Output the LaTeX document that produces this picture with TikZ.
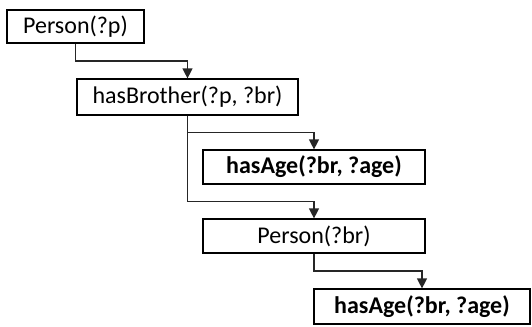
\documentclass[tikz,border=0pt]{standalone}
\usepackage{fontspec}
\setmainfont{Carlito}
\usetikzlibrary{arrows.meta}
\begin{document}
\begin{tikzpicture}[x=0.5pt, y=-0.5pt]
      \tikzset{atom/.style={draw=black, line width=0.6pt, rectangle, inner sep=0pt,
          font=\fontsize{12}{14}\selectfont}}
      \tikzset{link/.style={draw=black!85, line width=0.6pt,
          -{Triangle[width=5pt, length=5pt]}}}
      \path[use as bounding box] (0,0) rectangle (532,327);

      \node[atom, minimum width=68.5pt, minimum height=16.5pt] (person) at (75.5,26.5) {Person(?p)};
      \node[atom, minimum width=110.5pt, minimum height=18pt] (brother) at (187.5,97) {hasBrother(?p, ?br)};
      \node[atom, minimum width=111pt, minimum height=17pt] (age1) at (314,167) {\textbf{hasAge(?br, ?age)}};
      \node[atom, minimum width=111pt, minimum height=17pt] (personbr) at (314,236) {Person(?br)};
      \node[atom, minimum width=108pt, minimum height=17.5pt] (age2) at (422,306.5) {\textbf{hasAge(?br, ?age)}};

      % elbow points halfway between the boxes
      \path (person.south) -- (brother.north) coordinate[pos=.5] (m1);
      \path (brother.south) -- (age1.north) coordinate[pos=.5] (m2);
      \path (age1.south) -- (personbr.north) coordinate[pos=.5] (m3);
      \path (personbr.south) -- (age2.north) coordinate[pos=.5] (m4);

      \draw[link] (person.south) |- (m1) -| (brother.north);
      \draw[link] (brother.south) |- (m2) -| (age1.north);
      \draw[link] (brother.south) |- (m3) -| (personbr.north);
      \draw[link] (personbr.south) |- (m4) -| (age2.north);
    \end{tikzpicture}
\end{document}
